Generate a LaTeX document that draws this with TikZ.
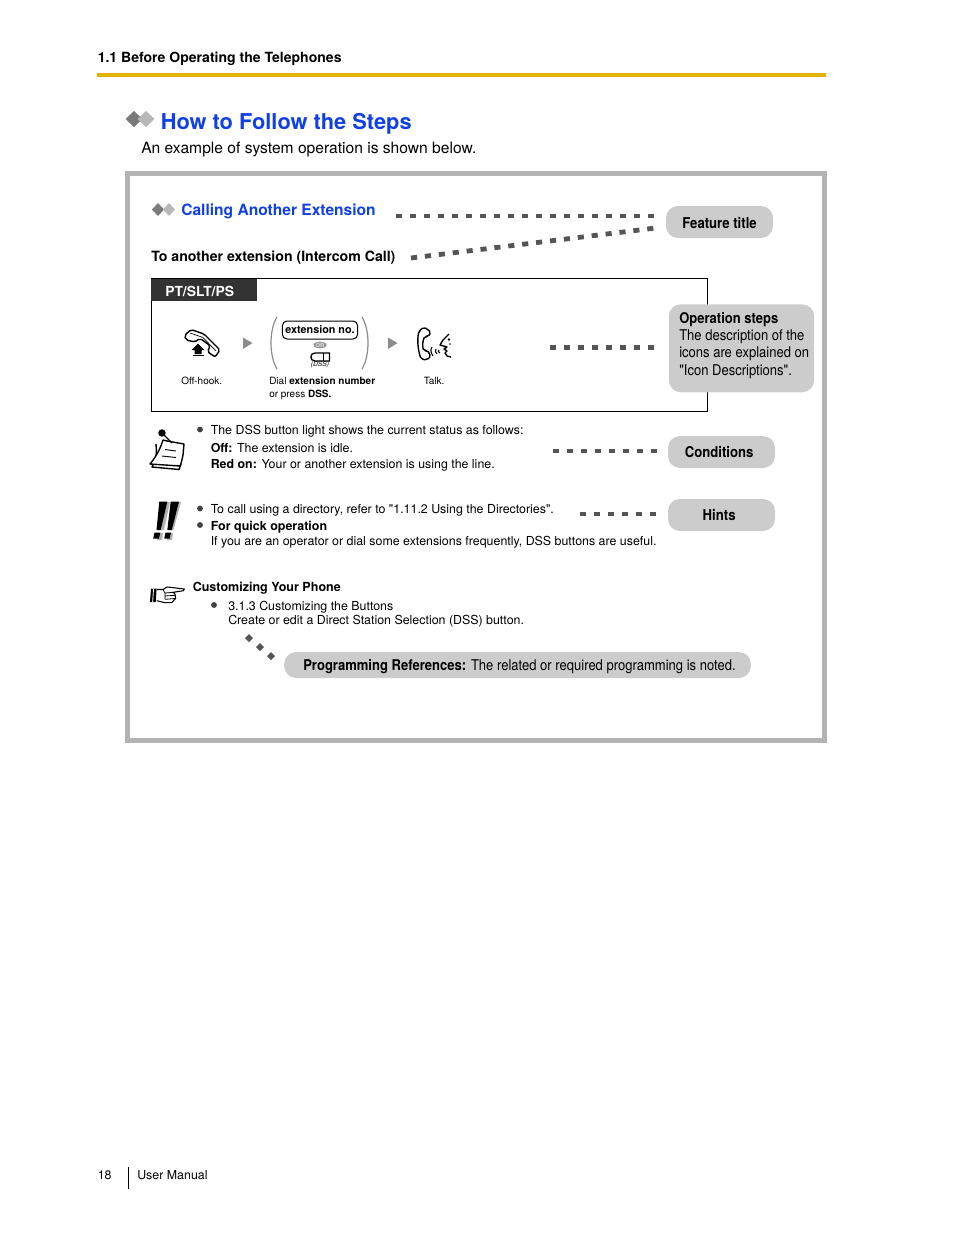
\documentclass[tikz,border=0pt]{standalone}
\usepackage{fontspec}
\setmainfont{TeX Gyre Heros}
\newfontfamily\narrowfont[FakeStretch=0.88]{TeX Gyre Heros}
\usepackage{tikz}
\usetikzlibrary{shapes.geometric}
\definecolor{pagegold}{HTML}{E0B400}
\definecolor{titleblue}{HTML}{0F3FE8}
\definecolor{framegray}{HTML}{B3B3B3}
\definecolor{bubblegray}{HTML}{CCCCCC}
\definecolor{dotgray}{HTML}{555555}
\tikzset{
  line/.style={anchor=base west,inner sep=0pt},
  small/.style={line,font=\fontsize{9.3}{11.4}\selectfont},
  para/.style={anchor=north west,inner sep=0pt,align=left,font=\fontsize{9.3}{11.3}\selectfont},
  caption/.style={anchor=north west,inner sep=0pt,align=left,font=\fontsize{7.5}{10.2}\selectfont},
  bubble/.style={fill=bubblegray,rounded corners=9pt,inner sep=0pt},
  bubbletext/.style={font=\narrowfont\bfseries\fontsize{11.2}{13}\selectfont},
  dotline/.style={line width=3.6pt,color=dotgray,dash pattern=on 4.6pt off 5.9pt},
  bulletdot/.style={circle,fill=black!75,inner sep=0pt,minimum size=4.4pt},
  stepmark/.style={fill=black!45},
  iconline/.style={line width=1.05pt,line join=round},
}
\begin{document}
\begin{tikzpicture}[x=.75pt,y=-.75pt]
\useasboundingbox (0,0) rectangle (954,1235);

% page head
\node[line,font=\bfseries\fontsize{10.52}{13}\selectfont] (headline) at (97.5,62) {1.1 Before Operating the Telephones};
\fill[pagegold] (97,73) rectangle (826,77);
\fill[black!52] (134,111) -- (142.5,119) -- (134,127) -- (125.5,119) -- cycle;
\fill[black!28] (146,111) -- (154.5,119) -- (146,127) -- (137.5,119) -- cycle;
\node[line,text=titleblue,font=\bfseries\fontsize{16.35}{20}\selectfont] (pagetitle) at (160.5,129) {How to Follow the Steps};
\node[line,font=\fontsize{11.7}{14}\selectfont] (intro) at (141,153) {An example of system operation is shown below.};

% frame
\draw[framegray,line width=3.75pt] (127.5,173.5) rectangle (824.5,740.5);
\fill[black!52] (158,203) -- (164,209.5) -- (158,216) -- (152,209.5) -- cycle;
\fill[black!28] (169,203) -- (175,209.5) -- (169,216) -- (163,209.5) -- cycle;
\node[line,text=titleblue,font=\bfseries\fontsize{11.68}{14}\selectfont] (featuretitle) at (181,215) {Calling Another Extension};
\node[line,font=\bfseries\fontsize{10.6}{13}\selectfont] (subtitle) at (151,261) {To another extension (Intercom Call)};

% operation box
\draw[line width=.75pt] (151,278) rectangle (707.5,411.5);
\fill[black!80] (151,279) rectangle (257,301);
\node[line,text=white,font=\bfseries\fontsize{10.4}{12}\selectfont] (devices) at (165,296) {PT/SLT/PS};

% off-hook
\draw[iconline,fill=white,rounded corners=1.5pt] (184.5,335.5) -- (191,329.5) -- (204,334) -- (220,350) -- (215,357) -- (207.3,351.5) -- (210.5,346) -- (200,338.3) -- (195,342) -- (186,340) -- cycle;
\draw[line width=.5pt] (190,333) -- (203,337.5) -- (216,351);
\fill (198,343.5) -- (204.5,350) -- (201.5,350) -- (201.5,354) -- (194.5,354) -- (194.5,350) -- (191.5,350) -- cycle;
\fill (192.5,355) rectangle (203.5,356.2);
\node[caption] (offhook) at (181,376.5) {Off-hook.};
\fill[stepmark] (243,337.5) -- (252.5,343) -- (243,349) -- cycle;

% dial
\draw[black!45,line width=.9pt] (277,317) .. controls (269,330) and (269,356) .. (277,369);
\draw[black!45,line width=.9pt] (362,317) .. controls (370,330) and (370,356) .. (362,369);
\node[draw,line width=.75pt,rounded corners=3.5pt,minimum width=56.5pt,minimum height=13.5pt,inner sep=0pt,font=\bfseries\fontsize{8.1}{10}\selectfont] (extno) at (320,330) {extension no.};
\node[ellipse,fill=black!40,text=black!15,minimum width=10pt,minimum height=5pt,inner sep=0pt,font=\bfseries\fontsize{4.4}{4.4}\selectfont] (ornote) at (320,345) {OR};
\draw[line width=1pt,fill=white] (329.5,353) -- (315,353) .. controls (309.5,353) and (309.5,361) .. (315,361) -- (329.5,361) -- cycle;
\draw[line width=.7pt] (323.5,353) -- (323.5,361);
\node[inner sep=0pt,font=\itshape\fontsize{5}{5}\selectfont] (dsskey) at (320,365) {(DSS)};
\node[caption] (dial) at (269,376.5) {Dial \textbf{extension number}\\or press \textbf{DSS.}};
\fill[stepmark] (388,337.5) -- (397.5,343) -- (388,349) -- cycle;

% talk
\draw[iconline,fill=white,rounded corners=1.5pt] (424,327) -- (419,331) .. controls (417,340) and (418,350) .. (421,359) -- (427,360) -- (431,356) -- (427,350) -- (424,351) .. controls (422,346) and (423,340) .. (425,336) -- (428,337) -- (431,332) -- cycle;
\draw[line width=.8pt] (432,347) .. controls (430,350) and (431,353) .. (433,356);
\draw[line width=.8pt] (436,349) .. controls (435,351) and (435,352) .. (437,354);
\draw[line width=.8pt] (439,350) .. controls (438,351) and (438,352) .. (440,353);
\draw[iconline] (449,334) -- (443,340) -- (440,345) -- (447,347) -- (444,349) -- (447,351) -- (445,353) .. controls (446,356) and (448,357) .. (451,357);
\fill (449,339.5) circle (1pt);
\fill (450,344) circle (.6pt);
\node[caption] (talk) at (423.5,376.5) {Talk.};

% notes
\draw[iconline,fill=white] (156,444) .. controls (157,455) and (156,460) .. (152,467) -- (179,469.5) -- (181,464);
\draw[iconline,fill=white] (167,441) -- (184,444) -- (183,455) .. controls (182,460) and (181,464) .. (180,466) -- (150,464) .. controls (155,458) and (160,450) .. (163,440) -- cycle;
\draw[line width=.7pt] (165,449.5) -- (176,451);
\draw[line width=.7pt] (162,456) -- (176,457.5);
\draw[line width=.9pt] (162,433) -- (172,443);
\fill (162,433) circle (2.8pt);
\node[bulletdot] (bulletdss) at (200,429.5) {};
\node[small] (dssnote) at (210.5,434) {The DSS button light shows the current status as follows:};
\node[para] (dssstate) at (210.5,443.5) {\textbf{Off:} The extension is idle.\\\textbf{Red on:} Your or another extension is using the line.};

% hints
\fill[black!30] (163,502) -- (170,502) -- (164,530) -- (160.5,530) -- cycle;
\fill[black!30] (174,502) -- (181,502) -- (173.5,530) -- (170.5,530) -- cycle;
\fill[black!30] (158,533) -- (163,533) -- (162,540) -- (157,540) -- cycle;
\fill[black!30] (168,533) -- (173,533) -- (172,540) -- (167,540) -- cycle;
\fill (159.3,501.7) -- (167.3,501.7) -- (160.7,530) -- (156.5,530) -- cycle;
\fill (170.7,501.7) -- (179,501.7) -- (171.7,530) -- (167.3,530) -- cycle;
\fill (154.5,532.7) -- (160.3,532.7) -- (159,538.5) -- (153.2,538.5) -- cycle;
\fill (165.5,532.7) -- (171,532.7) -- (169.7,538.5) -- (164.2,538.5) -- cycle;
\node[bulletdot] (bulletdir) at (200,508.5) {};
\node[small] (dirnote) at (210.5,513) {To call using a directory, refer to \textquotedbl 1.11.2 Using the Directories\textquotedbl.};
\node[bulletdot] (bulletquick) at (200,525) {};
\node[small,font=\bfseries\fontsize{9.35}{11.3}\selectfont] (quicknote) at (210.5,530) {For quick operation};
\node[small] (quicktext) at (210.5,545) {If you are an operator or dial some extensions frequently, DSS buttons are useful.};

% customizing
\fill (151,588.5) -- (156.7,588.5) -- (155.7,602) -- (150,602) -- cycle;
\draw[white,line width=.6pt] (153.6,588.5) -- (152.6,602);
\draw[line width=.8pt,line join=round,fill=white] (157,589.5) -- (163,589.5) -- (167,587) -- (170,587.3) -- (184.3,589) -- (183.3,590.7) -- (173.3,592.3) -- (175,594) -- (175.7,598.3) -- (171.7,602.7) -- (165,602.7) -- (156.7,600.7);
\draw[line width=.6pt] (165,593) -- (173.3,592.3) (165,596) -- (175,595.3) (165,599.3) -- (175.3,598.5) (163,589.5) -- (165,593) -- (165,599.3);
\node[line,font=\bfseries\fontsize{9.4}{11.3}\selectfont] (customhead) at (192.5,591) {Customizing Your Phone};
\node[bulletdot] (bulletcustom) at (214,605) {};
\node[para,font=\fontsize{9.3}{10.6}\selectfont] (customtext) at (228,600.6) {3.1.3 Customizing the Buttons\\Create or edit a Direct Station Selection (DSS) button.};

% callouts
\node[bubble,minimum width=80.25pt,minimum height=24pt,bubbletext] (featurebubble) at (719.5,222) {\raisebox{-4.7pt}[0pt][0pt]{Feature title}};
\node[bubble,anchor=north west,minimum width=109pt,minimum height=66pt] (stepsbubble) at (668.5,304) {};
\node[anchor=north west,inner sep=0pt,align=left,font=\narrowfont\fontsize{11.1}{13}\selectfont] (stepstext) at (679,312) {\textbf{Operation steps}\\The description of the\\icons are explained on\\"Icon Descriptions".};
\node[bubble,minimum width=80.25pt,minimum height=24pt,bubbletext] (condbubble) at (721.5,452) {\hspace*{-3.5pt}Conditions};
\node[bubble,minimum width=80.25pt,minimum height=24pt,bubbletext] (hintbubble) at (721.5,515) {\hspace*{-3.5pt}Hints};
\node[bubble,minimum width=350pt,minimum height=19.5pt,font=\narrowfont\fontsize{11.1}{13}\selectfont] (progbubble) at (517.5,665) {\hspace*{3pt}\raisebox{-4.4pt}[0pt][0pt]{\textbf{Programming References:} The related or required programming is noted.}};

\coordinate (featurestart) at (396,216);
\coordinate (featureend) at (656,216);
\coordinate (substart) at (411,258);
\coordinate (subend) at (655.5,228);
\coordinate (stepstart) at (550,347.5);
\coordinate (condstart) at (553,451);
\coordinate (hintstart) at (580,514);
\draw[dotline] (featurestart) -- (featureend);
\draw[dotline] (substart) -- (subend);
\draw[dotline,shorten >=9.5pt] (stepstart) -- (stepstart -| stepsbubble.west);
\draw[dotline,shorten >=7.5pt] (condstart) -- (condstart -| condbubble.west);
\draw[dotline,shorten >=7.5pt] (hintstart) -- (hintstart -| hintbubble.west);
\fill[dotgray] (249,634) -- (253,638) -- (249,642) -- (245,638) -- cycle;
\fill[dotgray] (260,643) -- (264,647) -- (260,651) -- (256,647) -- cycle;
\fill[dotgray] (271,652) -- (275,656) -- (271,660) -- (267,656) -- cycle;

% foot
\node[small] (pageno) at (97.5,1179) {18};
\draw[line width=.75pt] (128.5,1167) -- (128.5,1189);
\node[small] (manual) at (137,1179) {User Manual};
\end{tikzpicture}
\end{document}
